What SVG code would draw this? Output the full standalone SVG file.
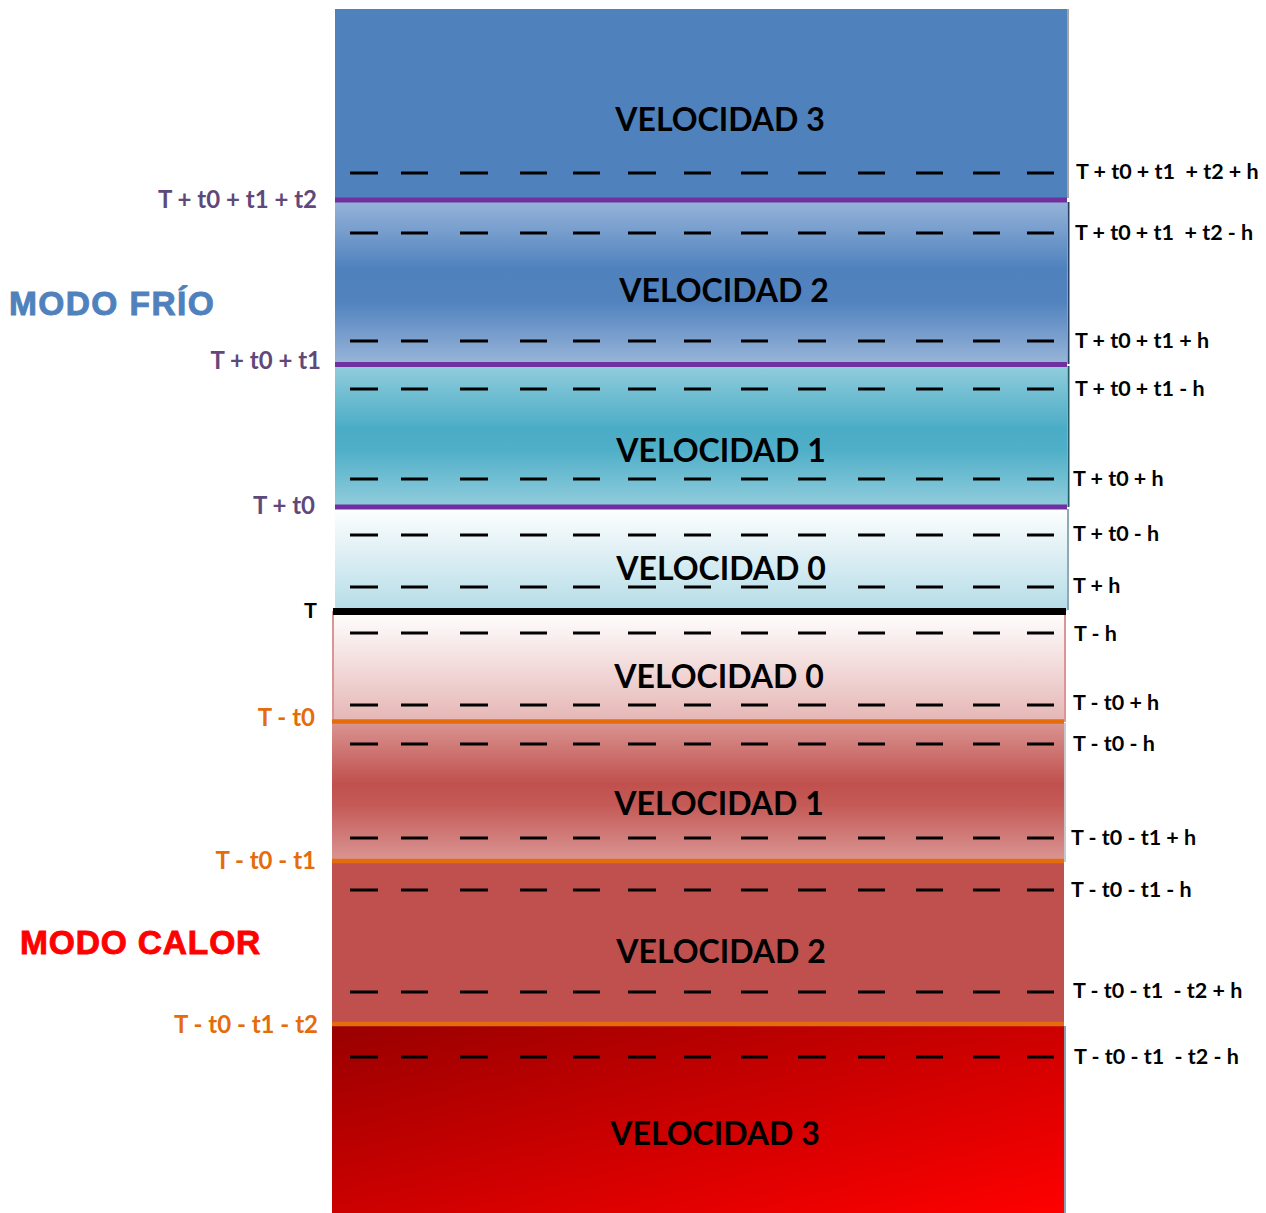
<svg xmlns="http://www.w3.org/2000/svg" width="1266" height="1213" viewBox="0 0 1266 1213">
  <style>
    .vel { font-family: Lato, "Liberation Sans", sans-serif; font-weight: 700; font-size: 32px; fill: #000; text-anchor: middle; }
    .thr { font-family: Lato, "Liberation Sans", sans-serif; font-weight: 700; font-size: 21.5px; fill: #000; }
    .cold { font-family: Lato, "Liberation Sans", sans-serif; font-weight: 700; font-size: 24px; fill: #5F497A; text-anchor: end; }
    .warm { font-family: Lato, "Liberation Sans", sans-serif; font-weight: 700; font-size: 24px; fill: #E46C0A; text-anchor: end; }
    .mode { font-family: "Liberation Sans", Arial, sans-serif; font-weight: 700; font-size: 33.5px; stroke-width: 0.9; }
    .purple { stroke: #7030A0; stroke-width: 5; }
    .orange { stroke: #E46C0A; stroke-width: 4.5; }
    .dash { fill: none; stroke: #000; stroke-width: 3; }
  </style>
  <defs>
    <linearGradient id="gBlue2" x1="0" y1="0" x2="0" y2="1">
      <stop offset="0" stop-color="#97B5DA"/>
      <stop offset="0.42" stop-color="#4F81BD"/>
      <stop offset="0.62" stop-color="#5283BF"/>
      <stop offset="1" stop-color="#9AB6D9"/>
    </linearGradient>
    <linearGradient id="gTeal1" x1="0" y1="0" x2="0" y2="1">
      <stop offset="0" stop-color="#93CEDD"/>
      <stop offset="0.45" stop-color="#4BACC6"/>
      <stop offset="0.6" stop-color="#50AFC8"/>
      <stop offset="1" stop-color="#93CEDD"/>
    </linearGradient>
    <linearGradient id="gIce0" x1="0" y1="0" x2="0" y2="1">
      <stop offset="0" stop-color="#FFFFFF"/>
      <stop offset="1" stop-color="#B5DCE7"/>
    </linearGradient>
    <linearGradient id="gRose0" x1="0" y1="0" x2="0" y2="1">
      <stop offset="0" stop-color="#FFFFFF"/>
      <stop offset="1" stop-color="#E5B6B5"/>
    </linearGradient>
    <linearGradient id="gRed1" x1="0" y1="0" x2="0" y2="1">
      <stop offset="0" stop-color="#DA9694"/>
      <stop offset="0.45" stop-color="#C0504D"/>
      <stop offset="0.6" stop-color="#C45A57"/>
      <stop offset="1" stop-color="#DA9694"/>
    </linearGradient>
    <linearGradient id="gRed3" x1="0" y1="0" x2="1" y2="1">
      <stop offset="0" stop-color="#990000"/>
      <stop offset="1" stop-color="#FF0000"/>
    </linearGradient>
    <!-- one row of hysteresis dashes, placed with <use> -->
    <path id="dashRow" class="dash" d="M350 0h28M401 0h27M460 0h28M520 0h27M573 0h27M628 0h28M684 0h27M741 0h27M798 0h28M858 0h27M916 0h27M973 0h27M1027 0h27"/>
  </defs>

  <!-- cooling bands -->
  <g id="cold-v3">
    <rect x="335" y="9" width="732" height="192" fill="#4F81BD"/>
    <line x1="1068" y1="9" x2="1068" y2="198" stroke="#A6A6A6" stroke-width="2"/>
    <text class="vel" x="720" y="131">VELOCIDAD 3</text>
  </g>
  <g id="cold-v2">
    <rect x="335" y="200" width="732" height="165" fill="url(#gBlue2)"/>
    <line x1="1068.5" y1="202" x2="1068.5" y2="364" stroke="#243F60" stroke-width="2"/>
    <text class="vel" x="724" y="302">VELOCIDAD 2</text>
  </g>
  <g id="cold-v1">
    <rect x="335" y="364" width="732" height="144" fill="url(#gTeal1)"/>
    <line x1="1068.5" y1="366" x2="1068.5" y2="507" stroke="#215868" stroke-width="2"/>
    <text class="vel" x="721" y="462">VELOCIDAD 1</text>
  </g>
  <g id="cold-v0">
    <rect x="335" y="507" width="732" height="104" fill="url(#gIce0)"/>
    <line x1="1068" y1="509" x2="1068" y2="610" stroke="#8EA9B8" stroke-width="2"/>
    <text class="vel" x="721" y="580">VELOCIDAD 0</text>
  </g>

  <!-- heating bands -->
  <g id="warm-v0">
    <rect x="333" y="612" width="732" height="109" fill="url(#gRose0)" stroke="#D99694" stroke-width="2"/>
    <text class="vel" x="719" y="688">VELOCIDAD 0</text>
  </g>
  <g id="warm-v1">
    <rect x="332" y="721" width="732" height="140" fill="url(#gRed1)"/>
    <line x1="1065" y1="723" x2="1065" y2="862" stroke="#C8C8C8" stroke-width="2"/>
    <text class="vel" x="719" y="815">VELOCIDAD 1</text>
  </g>
  <g id="warm-v2">
    <rect x="332" y="861" width="732" height="163" fill="#C0504D"/>
    <text class="vel" x="721" y="963">VELOCIDAD 2</text>
  </g>
  <g id="warm-v3">
    <rect x="332" y="1024" width="732" height="189" fill="url(#gRed3)"/>
    <line x1="1065" y1="1026" x2="1065" y2="1213" stroke="#8EA0B8" stroke-width="2"/>
    <text class="vel" x="715" y="1145">VELOCIDAD 3</text>
  </g>

  <!-- switching thresholds and hysteresis rows -->
  <g id="connectors">
    <use href="#dashRow" y="173"/>
    <use href="#dashRow" y="233"/>
    <use href="#dashRow" y="341"/>
    <use href="#dashRow" y="389"/>
    <use href="#dashRow" y="479"/>
    <use href="#dashRow" y="535"/>
    <use href="#dashRow" y="587"/>
    <use href="#dashRow" y="633"/>
    <use href="#dashRow" y="705"/>
    <use href="#dashRow" y="744"/>
    <use href="#dashRow" y="838"/>
    <use href="#dashRow" y="890"/>
    <use href="#dashRow" y="992"/>
    <use href="#dashRow" y="1057"/>
    <line class="purple" x1="335" y1="200" x2="1067" y2="200"/>
    <line class="purple" x1="335" y1="364.5" x2="1067" y2="364.5"/>
    <line class="purple" x1="335" y1="507" x2="1067" y2="507"/>
    <line x1="333" y1="611.5" x2="1066" y2="611.5" stroke="#000" stroke-width="7"/>
    <line class="orange" x1="332" y1="721.5" x2="1064" y2="721.5"/>
    <line class="orange" x1="332" y1="861" x2="1064" y2="861"/>
    <line class="orange" x1="332" y1="1024" x2="1064" y2="1024"/>
  </g>

  <!-- threshold labels, left -->
  <g id="labels-left">
    <text class="cold" x="317" y="208">T + t0 + t1 + t2</text>
    <text class="cold" x="321" y="369">T + t0 + t1</text>
    <text class="cold" x="315" y="514">T + t0</text>
    <text class="thr" x="317" y="618" text-anchor="end">T</text>
    <text class="warm" x="315" y="726">T - t0</text>
    <text class="warm" x="316" y="869">T - t0 - t1</text>
    <text class="warm" x="318" y="1033">T - t0 - t1 - t2</text>
  </g>

  <!-- threshold labels, right -->
  <g id="labels-right">
    <text class="thr" x="1076" y="179" xml:space="preserve">T + t0 + t1  + t2 + h</text>
    <text class="thr" x="1075" y="240" xml:space="preserve">T + t0 + t1  + t2 - h</text>
    <text class="thr" x="1075" y="348">T + t0 + t1 + h</text>
    <text class="thr" x="1075" y="396">T + t0 + t1 - h</text>
    <text class="thr" x="1073" y="486">T + t0 + h</text>
    <text class="thr" x="1073" y="541">T + t0 - h</text>
    <text class="thr" x="1073" y="593">T + h</text>
    <text class="thr" x="1074" y="641">T - h</text>
    <text class="thr" x="1073" y="710">T - t0 + h</text>
    <text class="thr" x="1073" y="751">T - t0 - h</text>
    <text class="thr" x="1071" y="845">T - t0 - t1 + h</text>
    <text class="thr" x="1071" y="897">T - t0 - t1 - h</text>
    <text class="thr" x="1073" y="998" xml:space="preserve">T - t0 - t1  - t2 + h</text>
    <text class="thr" x="1074" y="1064" xml:space="preserve">T - t0 - t1  - t2 - h</text>
  </g>

  <!-- mode titles -->
  <g id="mode-cold">
    <text class="mode" x="9" y="315" fill="#4F81BD" stroke="#4F81BD" letter-spacing="1.4">MODO FRÍO</text>
  </g>
  <g id="mode-heat">
    <text class="mode" x="20" y="954" fill="#FF0000" stroke="#FF0000" letter-spacing="0.85">MODO CALOR</text>
  </g>
</svg>
